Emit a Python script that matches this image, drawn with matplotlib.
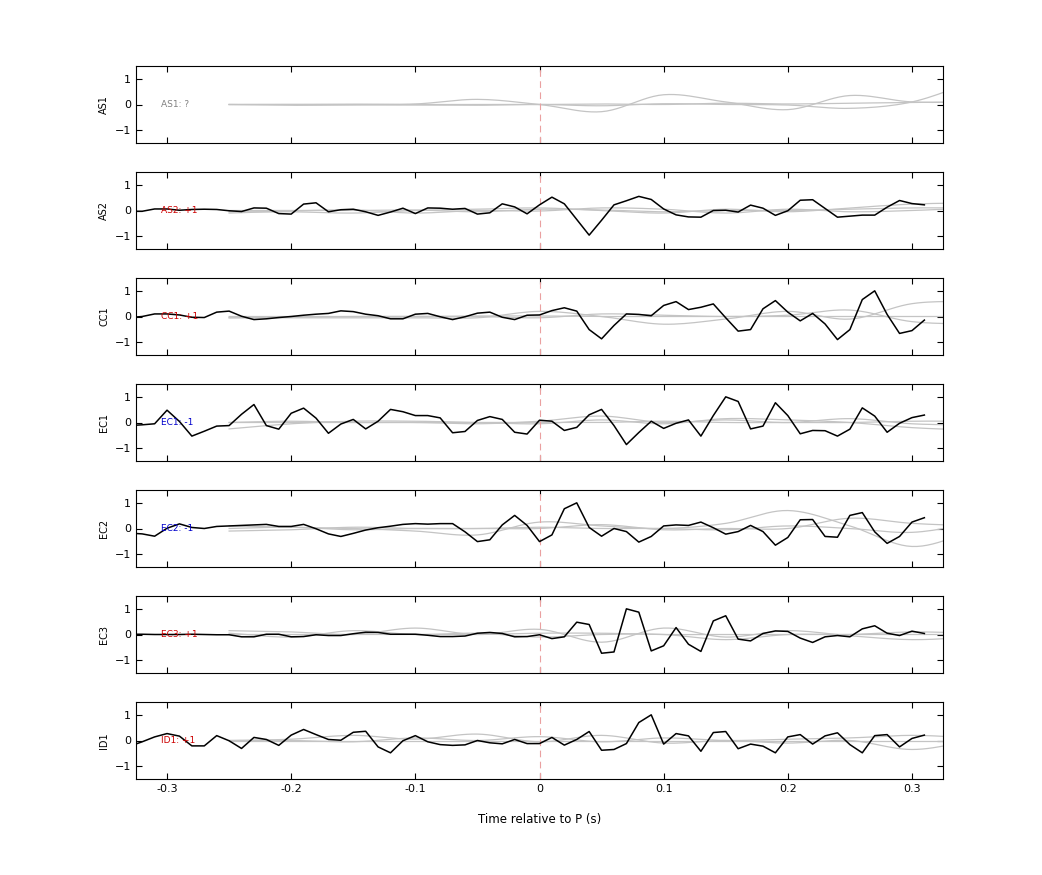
import numpy as np
import matplotlib
matplotlib.use("Agg")
import matplotlib.pyplot as plt

stations = ["AS1", "AS2", "CC1", "EC1", "EC2", "EC3", "ID1"]
polarity = ["?", "+1", "+1", "-1", "-1", "+1", "+1"]
label_colors = ["#808080", "#cc0000", "#cc0000", "#0000cc", "#0000cc", "#cc0000", "#cc0000"]

t_start = -0.33
t_step = 0.01

black = {
"AS1": None,
"AS2": [-0.03,-0.03,0.06,0.06,0.01,0.04,0.05,0.04,-0.01,-0.04,0.10,0.09,-0.12,-0.14,0.25,0.30,-0.05,0.03,0.05,-0.05,-0.19,-0.06,0.09,-0.12,0.10,0.09,0.05,0.08,-0.14,-0.09,0.26,0.14,-0.13,0.22,0.52,0.26,-0.35,-0.96,-0.38,0.22,0.38,0.55,0.43,0.06,-0.17,-0.25,-0.26,0.0,0.01,-0.06,0.21,0.09,-0.19,-0.01,0.40,0.42,0.08,-0.26,-0.22,-0.18,-0.18,0.13,0.39,0.27,0.22],
"CC1": [-0.04,0,0.10,0.10,0.06,-0.03,-0.04,0.17,0.21,0.01,-0.12,-0.09,-0.04,0,0.05,0.09,0.12,0.22,0.19,0.09,0.03,-0.09,-0.09,0.09,0.12,-0.01,-0.12,-0.01,0.13,0.17,-0.03,-0.12,0.05,0.06,0.23,0.34,0.21,-0.51,-0.87,-0.35,0.10,0.08,0.03,0.43,0.58,0.27,0.36,0.49,-0.05,-0.57,-0.51,0.30,0.62,0.17,-0.17,0.12,-0.29,-0.90,-0.51,0.66,1.00,0.08,-0.66,-0.55,-0.14],
"EC1": [-0.12,-0.09,-0.05,0.48,0.04,-0.53,-0.34,-0.14,-0.12,0.32,0.70,-0.12,-0.26,0.36,0.56,0.17,-0.42,-0.06,0.12,-0.25,0.05,0.51,0.42,0.27,0.27,0.18,-0.40,-0.35,0.08,0.23,0.12,-0.38,-0.45,0.09,0.05,-0.31,-0.19,0.30,0.51,-0.12,-0.86,-0.39,0.05,-0.23,-0.03,0.10,-0.53,0.27,1.00,0.82,-0.25,-0.14,0.77,0.27,-0.44,-0.31,-0.32,-0.53,-0.26,0.57,0.25,-0.38,-0.03,0.19,0.29],
"EC2": [-0.18,-0.21,-0.30,0.01,0.18,0.04,0,0.08,0.10,0.12,0.14,0.16,0.08,0.08,0.16,-0.01,-0.21,-0.31,-0.19,-0.06,0.03,0.09,0.16,0.19,0.17,0.19,0.19,-0.13,-0.51,-0.44,0.14,0.51,0.12,-0.51,-0.25,0.77,1.00,0.04,-0.30,0,-0.12,-0.53,-0.31,0.10,0.14,0.12,0.25,0.03,-0.22,-0.12,0.12,-0.12,-0.65,-0.35,0.34,0.35,-0.31,-0.34,0.51,0.62,-0.13,-0.58,-0.31,0.25,0.42],
"EC3": [0.01,0.01,0,0,0,0.01,0,-0.01,-0.01,-0.09,-0.09,0.01,0.01,-0.09,-0.08,-0.01,-0.04,-0.04,0.03,0.09,0.08,0.01,0.01,0.01,-0.03,-0.08,-0.08,-0.06,0.05,0.08,0.04,-0.09,-0.08,-0.01,-0.16,-0.09,0.48,0.39,-0.73,-0.68,1.00,0.87,-0.64,-0.44,0.27,-0.38,-0.66,0.53,0.73,-0.18,-0.25,0.04,0.14,0.12,-0.14,-0.31,-0.09,-0.04,-0.09,0.22,0.34,0.05,-0.04,0.13,0.04],
"ID1": [-0.22,-0.05,0.14,0.27,0.17,-0.21,-0.21,0.19,-0.01,-0.31,0.12,0.04,-0.19,0.21,0.43,0.23,0.04,0.01,0.32,0.36,-0.25,-0.48,-0.01,0.19,-0.05,-0.16,-0.19,-0.17,0,-0.09,-0.13,0.04,-0.12,-0.12,0.12,-0.18,0.04,0.35,-0.38,-0.35,-0.12,0.70,1.00,-0.14,0.27,0.18,-0.42,0.31,0.35,-0.32,-0.14,-0.22,-0.48,0.14,0.23,-0.14,0.18,0.30,-0.16,-0.48,0.19,0.23,-0.25,0.08,0.21],
}

# gray traces sampled at -0.25 .. 0.35 every 0.05
g_start = -0.25
g_step = 0.05
gray = {
"AS1": [[0,0,0,0.02,0.2,0.0,-0.28,0.38,0.1,-0.2,0.35,0.1,0.1],
        [0,-0.03,-0.02,-0.02,-0.03,0,-0.05,0.03,0.0,-0.02,-0.15,0.1,0.9],
        [0,0,0.01,0.0,0.0,0.0,0.02,0.0,0.05,0.02,0.05,0.08,0.1]],
"AS2": [[-0.05,-0.05,-0.1,0.0,0.05,0.1,0.0,-0.1,0.05,-0.05,0.1,0.25,0.3],
        [-0.1,-0.02,0.02,-0.1,0.0,-0.02,0.1,0.05,-0.1,0.05,-0.05,0.0,0.1],
        [0,0,0,0.02,-0.05,0.05,0.02,-0.05,0,0.0,0.05,0.1,0.1]],
"CC1": [[-0.05,-0.05,-0.05,-0.05,-0.05,0.2,0.0,-0.3,-0.1,0.2,-0.1,0.5,0.6],
        [0,0,0,0,0,-0.05,0.1,0.05,0.0,0.05,0.25,-0.2,-0.3],
        [-0.05,-0.02,0,0,0.02,0.02,0.0,0.0,0.0,0.0,0.0,0.0,0.0]],
"EC1": [[-0.25,-0.05,0.05,0.05,0.0,-0.05,0.1,-0.05,0.15,0.1,0.0,-0.2,-0.3],
        [0,0.05,0.0,0.0,-0.05,0.05,0.25,0.0,0.1,0.0,0.15,-0.05,-0.1],
        [0,0,0,0,0,0,0,0.05,0.0,0.0,0.0,0.05,0.05]],
"EC2": [[0.1,0.05,0.0,-0.1,-0.25,0.25,0.1,0.0,0.2,0.7,0.1,-0.7,-0.1],
        [-0.1,-0.05,0.05,0.0,0.0,0.0,0.15,-0.05,0.0,0.0,0.4,0.2,0.1],
        [0,0.05,-0.05,0.0,0.0,0.05,0.0,0.0,-0.05,0.1,0.0,-0.15,0.2]],
"EC3": [[0.15,0.1,0.0,0.25,0.0,0.2,-0.3,0.25,-0.1,0.15,-0.05,-0.2,-0.1],
        [0.05,-0.1,0.15,0.0,0.05,-0.1,0.0,0.0,-0.2,0.0,0.0,0.1,0.05],
        [0.0,0.0,0.0,0.0,0.0,0.05,0.05,0.0,0.0,0.0,0.0,0.0,0.0]],
"ID1": [[0,0.05,0.2,0.05,0.25,-0.05,0.2,-0.1,0.0,-0.1,0.0,-0.35,0.0],
        [0,0,-0.05,0.1,0.0,0.15,-0.05,0.1,0.0,0.05,0.1,0.2,0.1],
        [0,0,0,0,0,0,0,0,0,0,0,0,0]],
}

def smooth(x, y, n=12):
    # Catmull-Rom curve through the sampled points (drawing only)
    x = np.asarray(x, float); y = np.asarray(y, float)
    P = np.vstack([np.r_[2*x[0]-x[1], x, 2*x[-1]-x[-2]], np.r_[2*y[0]-y[1], y, 2*y[-1]-y[-2]]]).T
    out = []
    for i in range(1, len(P)-2):
        p0, p1, p2, p3 = P[i-1], P[i], P[i+1], P[i+2]
        for t in np.linspace(0, 1, n, endpoint=False):
            out.append(0.5*((2*p1) + (-p0+p2)*t + (2*p0-5*p1+4*p2-p3)*t**2 + (-p0+3*p1-3*p2+p3)*t**3))
    out.append(P[-2])
    out = np.array(out)
    return out[:, 0], out[:, 1]

fig = plt.figure(figsize=(10.42, 8.75), dpi=100)
tops = [66, 172, 278, 384, 490, 596, 702]
h = 77
L, R = 136/1042, 943/1042
for i, st in enumerate(stations):
    ax = fig.add_axes([L, 1-(tops[i]+h)/875, R-L, h/875])
    for g in gray[st]:
        gx = g_start + g_step*np.arange(len(g))
        sx, sy = smooth(gx, g)
        ax.plot(sx, sy, color="#c4c4c4", lw=0.9)
    ax.axvline(0, color="#eaa0a0", lw=0.8, dashes=(6, 4))
    if black[st] is not None:
        v = black[st]
        bx = t_start + t_step*np.arange(len(v))
        ax.plot(bx, v, color="black", lw=1.1)
    ax.text(-0.305, 0, f"{st}: {polarity[i]}", color=label_colors[i], fontsize=6.5, va="center")
    ax.set_xlim(-0.325, 0.325)
    ax.set_ylim(-1.5, 1.5)
    ax.set_yticks([-1, 0, 1])
    ax.set_xticks([-0.3, -0.2, -0.1, 0, 0.1, 0.2, 0.3])
    ax.tick_params(direction="in", top=True, right=True, labelsize=8, length=4)
    ax.set_ylabel(st, fontsize=7)
    if i < len(stations)-1:
        ax.set_xticklabels([])
    else:
        ax.set_xticklabels(["-0.3", "-0.2", "-0.1", "0", "0.1", "0.2", "0.3"])
        ax.set_xlabel("Time relative to P (s)", fontsize=8.5, labelpad=14)
    for s in ax.spines.values():
        s.set_linewidth(0.8)

fig.savefig("out.png", dpi=100)
